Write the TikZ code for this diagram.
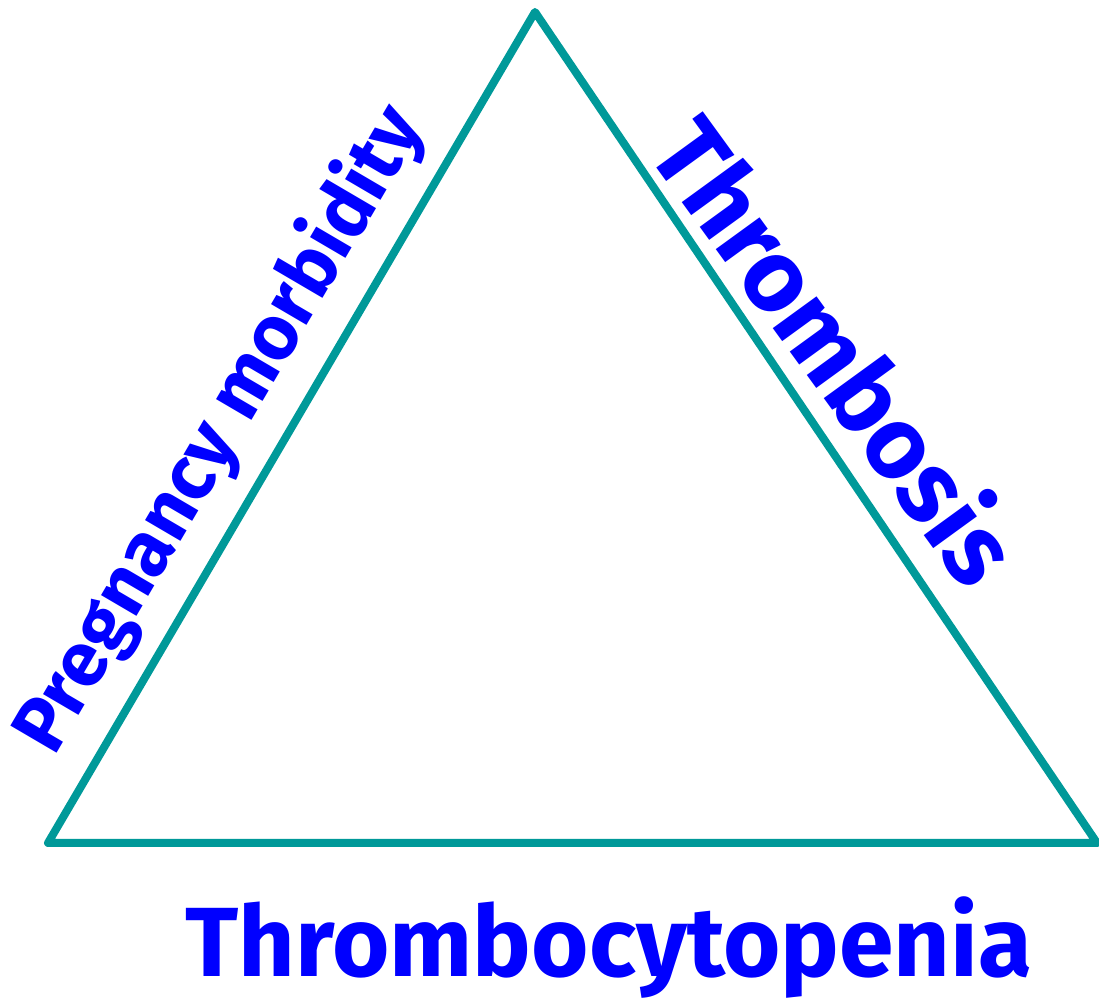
\documentclass[tikz,border=0pt]{standalone}
\usepackage{fontspec}
\setmainfont{Fira Sans}
\usepackage{xcolor}
\usetikzlibrary{math}
\definecolor{myteal}{RGB}{0,153,153}
\definecolor{myblue}{RGB}{0,0,255}

\begin{document}
\begin{tikzpicture}
\tikzmath{
\W=10.99;
\H=10;
\lw=0.08;
}
\useasboundingbox (0,0) rectangle (\W,\H);

%triangle
\coordinate (bl) at (0.48,1.57);
\coordinate (top) at (5.35,9.88);
\coordinate (br) at (10.97,1.57);
\draw[color=myteal,line width=\lw cm,line join=round] (bl) -- (top) -- (br) -- cycle;

%labels
\path (bl) -- (top) node[pos=0.46,sloped,above=2mm,inner sep=0pt,color=myblue,font=\fontsize{22}{26}\selectfont\bfseries] (preg) {Pregnancy morbidity};
\path (top) -- (br) coordinate[pos=0.45] (mid);
\node[anchor=base,rotate=-54,inner sep=0pt,color=myblue,font=\fontsize{29}{33}\selectfont\bfseries] (thromb) at ([shift={(0.18,0.13)}]mid) {Thrombosis};
\node[anchor=base,inner sep=0pt,color=myblue,font=\fontsize{28}{32}\selectfont\bfseries] (cyto) at (6.09,0.23) {Thrombocytopenia};
\end{tikzpicture}
\end{document}
